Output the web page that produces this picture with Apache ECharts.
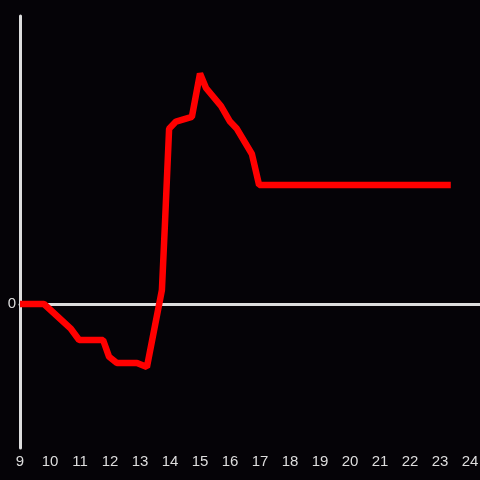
<!DOCTYPE html>
<html>
<head>
<meta charset="utf-8">
<script src="https://cdn.jsdelivr.net/npm/echarts@6/dist/echarts.min.js"></script>
<style>
html,body{margin:0;padding:0;background:#050307;}
#c{width:480px;height:480px;}
</style>
</head>
<body>
<div id="c"></div>
<script>
var hours = [9.0, 9.8, 10.7, 10.97, 11.77, 11.97, 12.23, 12.9, 13.23, 13.73, 13.83, 13.97, 14.2, 14.73, 15.0, 15.2, 15.7, 16.0, 16.23, 16.73, 16.97, 23.36];
var values = [0, 0, -10.4, -15, -15, -22, -24.6, -24.6, -26.3, 5.8, 33, 73, 76, 78, 96, 90, 82.5, 76, 73, 62.5, 49.6, 49.6];
var xTicks = [9, 10, 11, 12, 13, 14, 15, 16, 17, 18, 19, 20, 21, 22, 23, 24];
var yTickLabel = [0];

var data = hours.map(function (h, i) { return [h, values[i]]; });
var chart = echarts.init(document.getElementById('c'), null, {renderer: 'canvas'});
chart.setOption({
  backgroundColor: '#050307',
  animation: false,
  grid: {left: 20, right: 0, top: 16, bottom: 32, containLabel: false, outerBoundsMode: 'none'},
  xAxis: [{
    type: 'value', min: 9, max: 24 + 1/3, interval: 1,
    axisLine: {show: true, onZero: true, lineStyle: {color: '#dddddd', width: 3}},
    axisTick: {show: false}, axisLabel: {show: false}, splitLine: {show: false}
  }, {
    type: 'value', min: 9, max: 24 + 1/3, interval: 1, position: 'bottom',
    axisLine: {show: false, onZero: false}, axisTick: {show: false}, splitLine: {show: false},
    axisLabel: {
      color: '#dddddd', fontSize: 15, margin: 6, fontFamily: 'Liberation Sans, sans-serif',
      hideOverlap: false,
      formatter: function (v) { return xTicks.indexOf(v) >= 0 ? String(v) : ''; }
    }
  }],
  yAxis: {
    type: 'value', min: -60, max: 120, interval: 60,
    axisLine: {show: true, onZero: false, lineStyle: {color: '#dddddd', width: 3}},
    axisTick: {show: false}, splitLine: {show: false},
    axisLabel: {
      color: '#dddddd', fontSize: 15, margin: 4, padding: [4, 0, 0, 0], fontFamily: 'Liberation Sans, sans-serif',
      formatter: function (v) { return yTickLabel.indexOf(v) >= 0 ? String(v) : ''; }
    }
  },
  series: [{
    type: 'line', xAxisIndex: 0, data: data, symbol: 'none',
    lineStyle: {color: '#ff0000', width: 6.5}
  }]
});
</script>
</body>
</html>
